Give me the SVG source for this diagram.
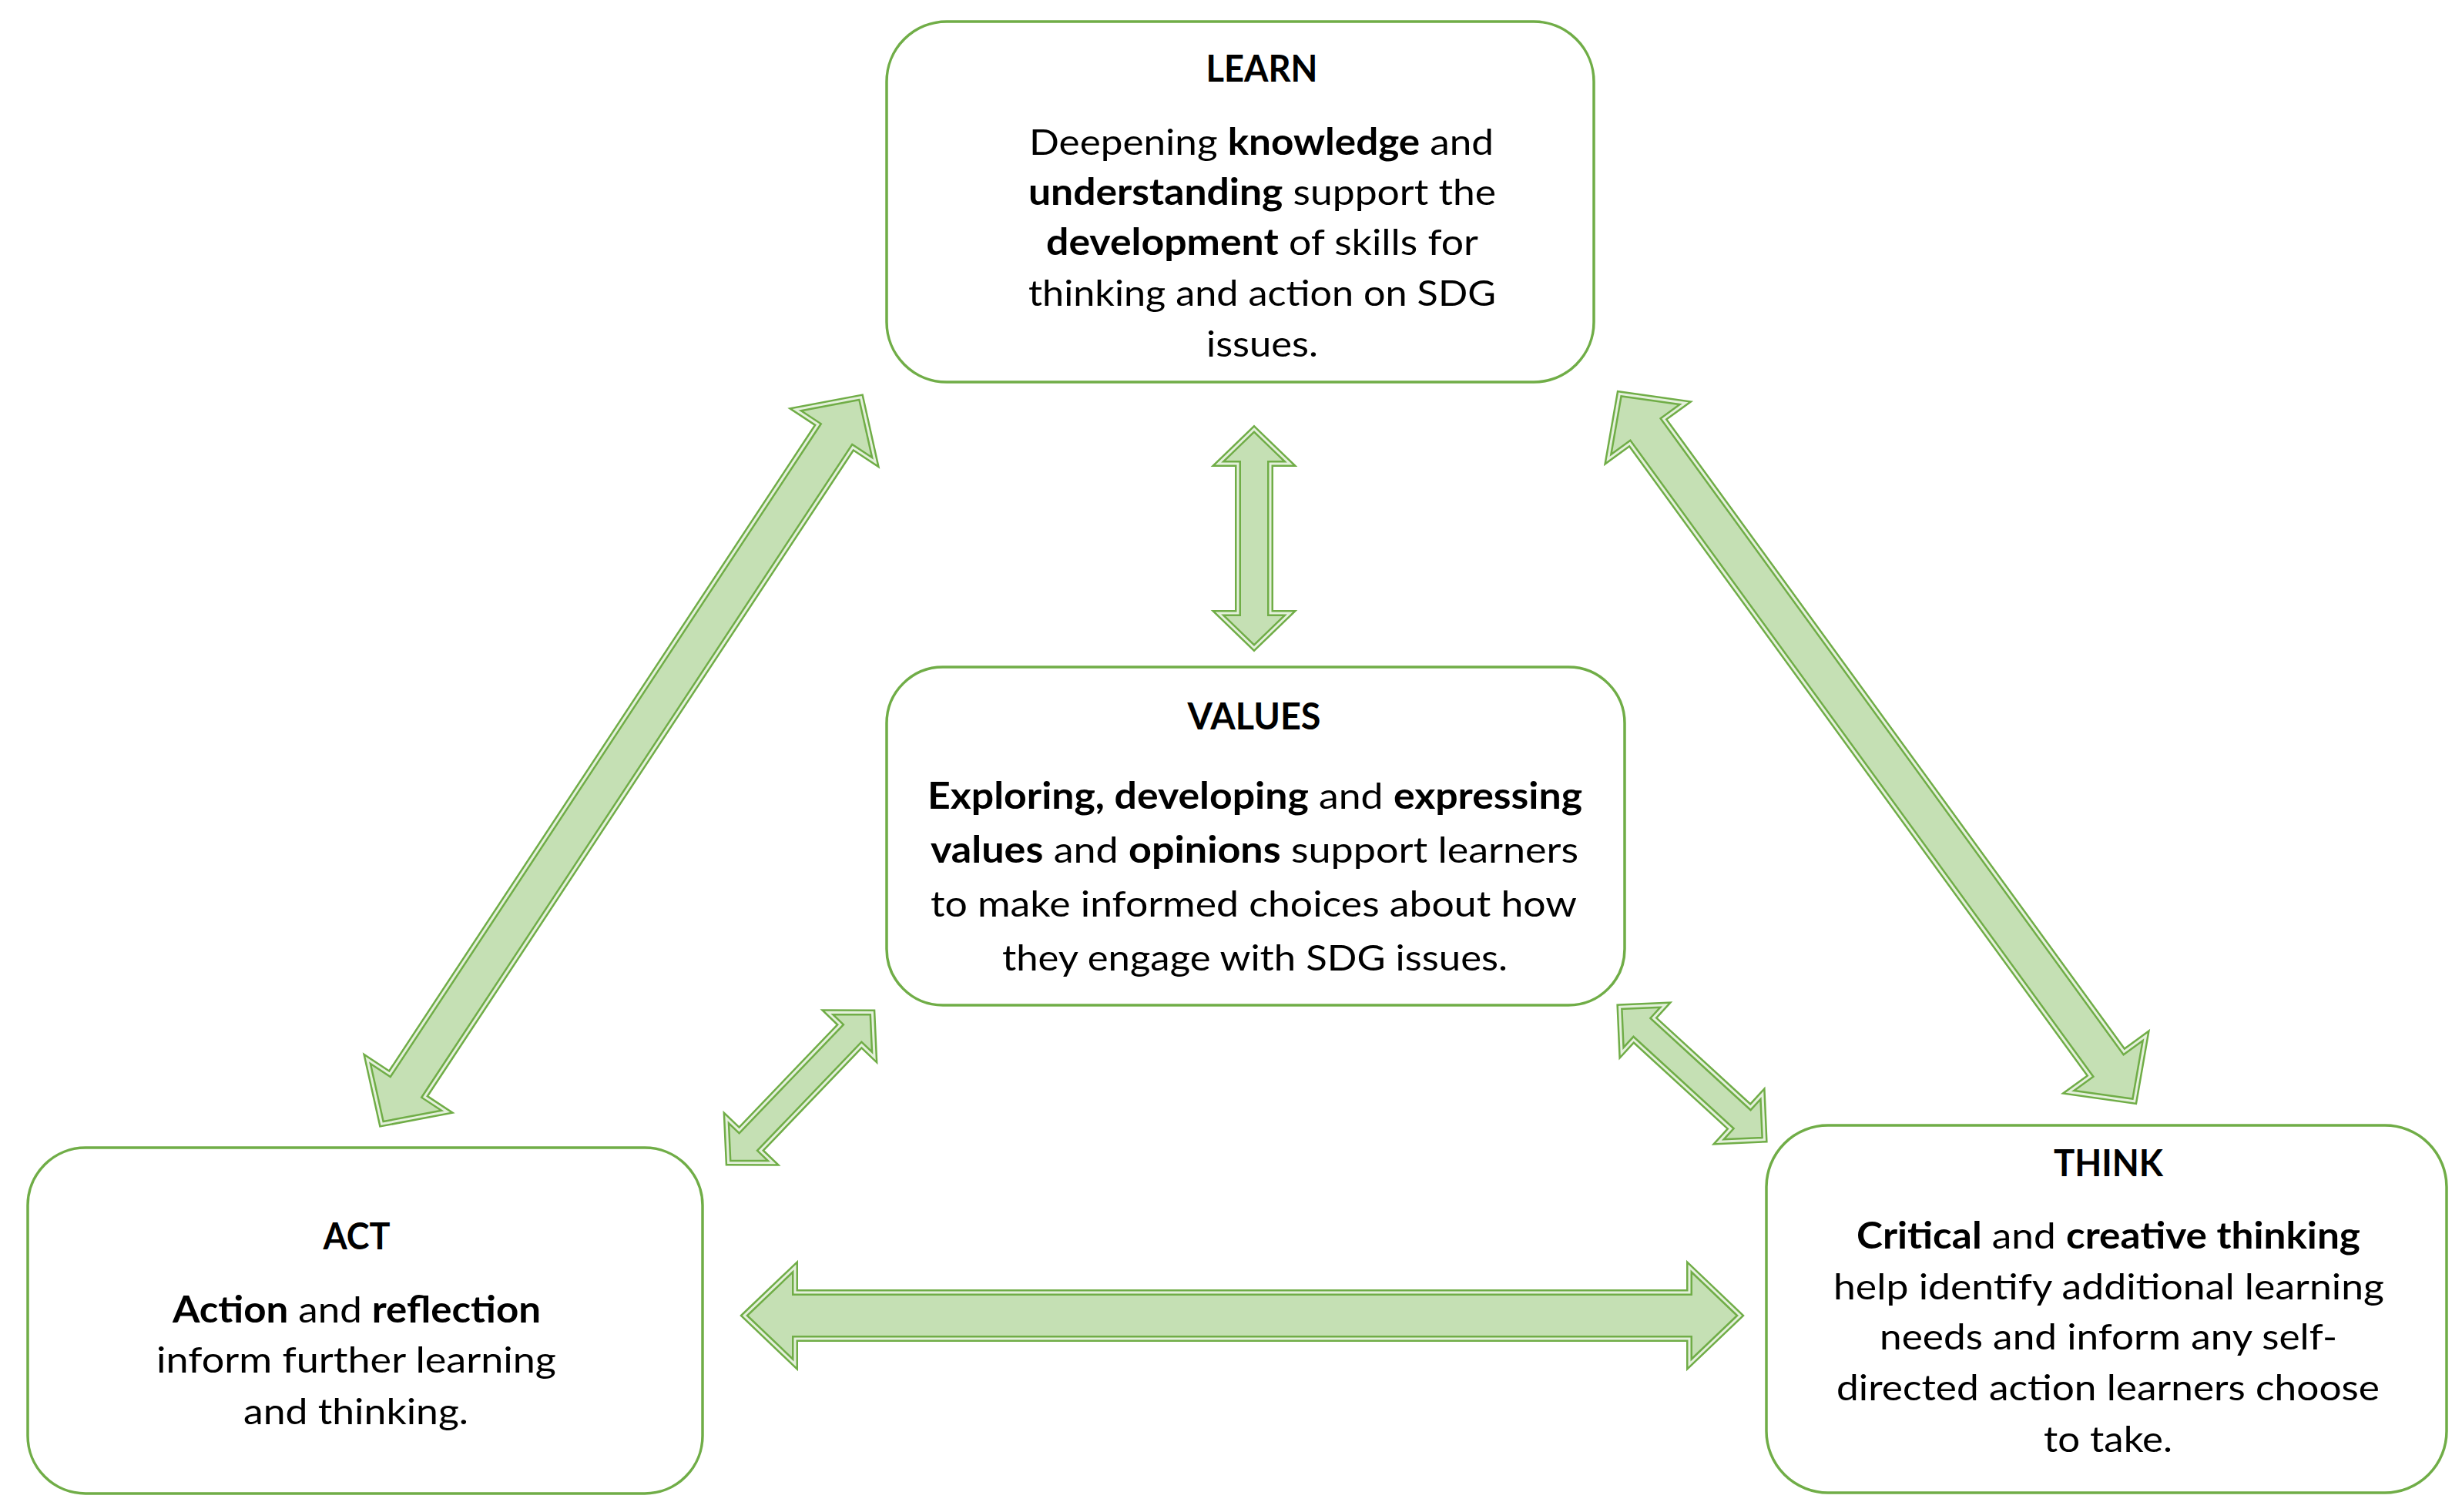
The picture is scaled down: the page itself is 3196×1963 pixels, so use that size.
<svg xmlns="http://www.w3.org/2000/svg" width="3196" height="1963" viewBox="0 0 3196 1963">
<style>
.box{fill:#FFFFFF;stroke:#70AD47;stroke-width:3.5}
.arr{fill:#C5E0B4;stroke:#70AD47;stroke-width:8;stroke-linejoin:miter}
.arrin{fill:none;stroke:#E4F0DC;stroke-width:3;stroke-linejoin:miter}
.t{font-family:Lato,"Liberation Sans",sans-serif;font-size:47px;fill:#000000;text-anchor:middle}
.b{font-weight:bold}
</style>
<rect width="3196" height="1963" fill="#FFFFFF"/>
<g id="connectors">
  <g id="learn-act" transform="translate(806.5 987.5) rotate(-56.6)">
    <path class="arr" d="M-565,0 L-505,-62 L-505,-27 L505,-27 L505,-62 L565,0 L505,62 L505,27 L-505,27 L-505,62 Z"/>
    <path class="arrin" d="M-565,0 L-505,-62 L-505,-27 L505,-27 L505,-62 L565,0 L505,62 L505,27 L-505,27 L-505,62 Z"/>
  </g>
  <g id="learn-think" transform="translate(2436.5 970.5) rotate(53.96)">
    <path class="arr" d="M-568,0 L-508,-62 L-508,-27 L508,-27 L508,-62 L568,0 L508,62 L508,27 L-508,27 L-508,62 Z"/>
    <path class="arrin" d="M-568,0 L-508,-62 L-508,-27 L508,-27 L508,-62 L568,0 L508,62 L508,27 L-508,27 L-508,62 Z"/>
  </g>
  <g id="learn-values" transform="translate(1628 699) rotate(90)">
    <path class="arr" d="M-142,0 L-97,-46.5 L-97,-21 L97,-21 L97,-46.5 L142,0 L97,46.5 L97,21 L-97,21 L-97,46.5 Z"/>
    <path class="arrin" d="M-142,0 L-97,-46.5 L-97,-21 L97,-21 L97,-46.5 L142,0 L97,46.5 L97,21 L-97,21 L-97,46.5 Z"/>
  </g>
  <g id="values-act" transform="translate(1039 1412) rotate(-46.2)">
    <path class="arr" d="M-135,0 L-95,-42 L-95,-19 L95,-19 L95,-42 L135,0 L95,42 L95,19 L-95,19 L-95,42 Z"/>
    <path class="arrin" d="M-135,0 L-95,-42 L-95,-19 L95,-19 L95,-42 L135,0 L95,42 L95,19 L-95,19 L-95,42 Z"/>
  </g>
  <g id="values-think" transform="translate(2196.5 1393.5) rotate(42.5)">
    <path class="arr" d="M-127.5,0 L-85.5,-42 L-85.5,-19 L85.5,-19 L85.5,-42 L127.5,0 L85.5,42 L85.5,19 L-85.5,19 L-85.5,42 Z"/>
    <path class="arrin" d="M-127.5,0 L-85.5,-42 L-85.5,-19 L85.5,-19 L85.5,-42 L127.5,0 L85.5,42 L85.5,19 L-85.5,19 L-85.5,42 Z"/>
  </g>
  <g id="act-think" transform="translate(1612.5 1708)">
    <path class="arr" d="M-646.5,0 L-580.5,-63 L-580.5,-30 L580.5,-30 L580.5,-63 L646.5,0 L580.5,63 L580.5,30 L-580.5,30 L-580.5,63 Z"/>
    <path class="arrin" d="M-646.5,0 L-580.5,-63 L-580.5,-30 L580.5,-30 L580.5,-63 L646.5,0 L580.5,63 L580.5,30 L-580.5,30 L-580.5,63 Z"/>
  </g>
</g>
<g id="learn">
  <rect class="box" x="1151" y="28" width="918" height="468" rx="78" ry="78"/>
  <text class="t b" x="1638" y="106" textLength="145" lengthAdjust="spacingAndGlyphs">LEARN</text>
  <text class="t" x="1637.5" y="201" textLength="603" lengthAdjust="spacingAndGlyphs">Deepening <tspan class="b">knowledge</tspan> and</text>
  <text class="t" x="1638.5" y="266" textLength="607" lengthAdjust="spacingAndGlyphs"><tspan class="b">understanding</tspan> support the</text>
  <text class="t" x="1638.5" y="331" textLength="561" lengthAdjust="spacingAndGlyphs"><tspan class="b">development</tspan> of skills for</text>
  <text class="t" x="1638.5" y="397" textLength="607" lengthAdjust="spacingAndGlyphs">thinking and action on SDG</text>
  <text class="t" x="1638.5" y="463" textLength="145" lengthAdjust="spacingAndGlyphs">issues.</text>
</g>
<g id="values">
  <rect class="box" x="1151" y="866" width="958" height="439" rx="73" ry="73"/>
  <text class="t b" x="1628" y="947" textLength="173" lengthAdjust="spacingAndGlyphs">VALUES</text>
  <text class="t" x="1629" y="1050" textLength="850" lengthAdjust="spacingAndGlyphs"><tspan class="b">Exploring, developing</tspan> and <tspan class="b">expressing</tspan></text>
  <text class="t" x="1628.5" y="1120" textLength="841" lengthAdjust="spacingAndGlyphs"><tspan class="b">values</tspan> and <tspan class="b">opinions</tspan> support learners</text>
  <text class="t" x="1627.5" y="1190" textLength="839" lengthAdjust="spacingAndGlyphs">to make informed choices about how</text>
  <text class="t" x="1629" y="1260" textLength="656" lengthAdjust="spacingAndGlyphs">they engage with SDG issues.</text>
</g>
<g id="act">
  <rect class="box" x="36" y="1490" width="876" height="449" rx="75" ry="75"/>
  <text class="t b" x="463" y="1622" textLength="87" lengthAdjust="spacingAndGlyphs">ACT</text>
  <text class="t" x="463" y="1717" textLength="478" lengthAdjust="spacingAndGlyphs"><tspan class="b">Action</tspan> and <tspan class="b">reflection</tspan></text>
  <text class="t" x="462.5" y="1782" textLength="519" lengthAdjust="spacingAndGlyphs">inform further learning</text>
  <text class="t" x="462" y="1849" textLength="292" lengthAdjust="spacingAndGlyphs">and thinking.</text>
</g>
<g id="think">
  <rect class="box" x="2293" y="1461" width="883" height="477" rx="80" ry="80"/>
  <text class="t b" x="2737" y="1527" textLength="142" lengthAdjust="spacingAndGlyphs">THINK</text>
  <text class="t" x="2737" y="1621" textLength="654" lengthAdjust="spacingAndGlyphs"><tspan class="b">Critical</tspan> and <tspan class="b">creative thinking</tspan></text>
  <text class="t" x="2737.5" y="1687" textLength="715" lengthAdjust="spacingAndGlyphs">help identify additional learning</text>
  <text class="t" x="2737" y="1752" textLength="594" lengthAdjust="spacingAndGlyphs">needs and inform any self-</text>
  <text class="t" x="2736.5" y="1818" textLength="705" lengthAdjust="spacingAndGlyphs">directed action learners choose</text>
  <text class="t" x="2736.5" y="1885" textLength="167" lengthAdjust="spacingAndGlyphs">to take.</text>
</g>
</svg>
